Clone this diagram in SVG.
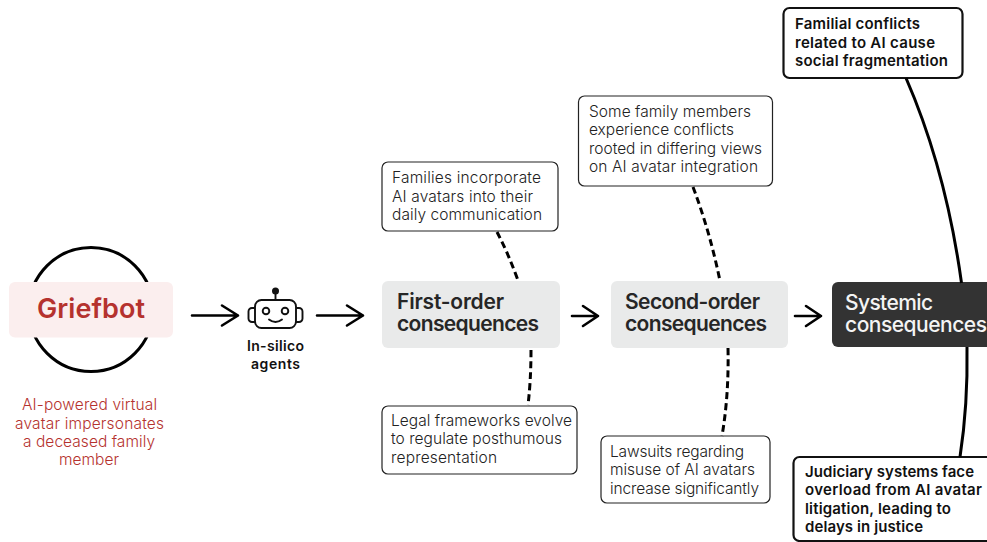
<svg xmlns="http://www.w3.org/2000/svg" width="987" height="542" viewBox="0 0 987 542">
<defs>
<style>
text{font-family:"Inter","Liberation Sans",sans-serif;fill:#222;}
.note{font-size:15.500px;font-weight:300;fill:#222;}
.strong{font-size:15px;font-weight:600;fill:#111;}
.head{font-size:21px;font-weight:600;fill:#262626;}
.box{fill:#fff;stroke:#222;stroke-width:1.2;}
.boxb{fill:#fff;stroke:#111;stroke-width:2.2;}
.arrow{fill:none;stroke:#000;stroke-width:2.6;stroke-linecap:round;stroke-linejoin:round;}
.dash{fill:none;stroke:#000;stroke-width:3;stroke-dasharray:7 4;}
.solid{fill:none;stroke:#000;stroke-width:3;}
.cap{font-size:15.500px;font-weight:300;fill:#b5322e;}
</style>
</defs>
<rect width="987" height="542" fill="#fff"/>
<g id="griefbot">
<circle cx="91" cy="309.500" r="62" fill="none" stroke="#000" stroke-width="3"/>
<rect x="9" y="282" width="164" height="55.500" rx="6" fill="#fbeeee"/>
<text x="37" y="318" font-size="27" font-weight="600" style="fill:#b5322e" textLength="108">Griefbot</text>
<text class="cap" x="22" y="410" textLength="135">AI-powered virtual</text>
<text class="cap" x="15" y="428.500" textLength="149">avatar impersonates</text>
<text class="cap" x="23" y="447" textLength="132">a deceased family</text>
<text class="cap" x="59" y="465" textLength="60">member</text>
</g>
<g id="agents">
<g fill="none" stroke="#111" stroke-width="1.900">
<rect x="255" y="300" width="41" height="28" rx="6.500" fill="#fff"/>
<path d="M255 308h-3a3.500 3.500 0 0 0-3.500 3.500v7a3.500 3.500 0 0 0 3.500 3.500h3"/>
<path d="M296 308h3a3.500 3.500 0 0 1 3.500 3.500v7a3.500 3.500 0 0 1-3.500 3.500h-3"/>
<path d="M275.500 293v7"/>
<circle cx="266" cy="311" r="3.300"/>
<circle cx="285" cy="311" r="3.300"/>
<path d="M269 319.500q6.500 5 13 0" stroke-linecap="round"/>
</g>
<circle cx="275.500" cy="291" r="3.500" fill="#111"/>
<text x="247" y="351" font-size="14" font-weight="600" style="fill:#111" textLength="57">In-silico</text>
<text x="251" y="369" font-size="14" font-weight="600" style="fill:#111" textLength="49">agents</text>
</g>
<g id="first-order">
<rect x="382" y="281" width="178" height="67" rx="6" fill="#e9eaea"/>
<text class="head" x="397" y="309" textLength="107">First-order</text>
<text class="head" x="397" y="331" textLength="142">consequences</text>
</g>
<g id="second-order">
<rect x="611" y="281" width="177" height="67" rx="6" fill="#e9eaea"/>
<text class="head" x="625" y="309" textLength="135">Second-order</text>
<text class="head" x="625" y="331" textLength="142">consequences</text>
</g>
<g id="systemic">
<rect x="832" y="282" width="170" height="65" rx="6" fill="#333"/>
<text x="845" y="310" font-size="21" font-weight="500" style="fill:#f4f4f4" textLength="88">Systemic</text>
<text x="845" y="332" font-size="21" font-weight="500" style="fill:#f4f4f4" textLength="142">consequences</text>
</g>
<g id="families">
<rect class="box" x="382" y="162" width="176" height="69" rx="6"/>
<text class="note" x="392" y="183" textLength="149">Families incorporate</text>
<text class="note" x="392" y="201.500" textLength="141">AI avatars into their</text>
<text class="note" x="392" y="220" textLength="150">daily communication</text>
</g>
<g id="legal">
<rect class="box" x="382" y="406" width="195" height="68" rx="6"/>
<text class="note" x="391" y="426" textLength="181">Legal frameworks evolve</text>
<text class="note" x="391" y="444" textLength="171">to regulate posthumous</text>
<text class="note" x="391" y="462.500" textLength="106">representation</text>
</g>
<g id="some-family">
<rect class="box" x="578.500" y="96" width="194" height="90" rx="6"/>
<text class="note" x="589" y="117" textLength="162">Some family members</text>
<text class="note" x="589" y="135" textLength="145">experience conflicts</text>
<text class="note" x="589" y="153.500" textLength="173">rooted in differing views</text>
<text class="note" x="589" y="172" textLength="169">on AI avatar integration</text>
</g>
<g id="lawsuits">
<rect class="box" x="601" y="436" width="169" height="67" rx="6"/>
<text class="note" x="610" y="457" textLength="134">Lawsuits regarding</text>
<text class="note" x="610" y="475" textLength="145">misuse of AI avatars</text>
<text class="note" x="610" y="493.500" textLength="149">increase significantly</text>
</g>
<g id="familial">
<rect class="boxb" x="783.500" y="8" width="179" height="70" rx="6"/>
<text class="strong" x="795" y="29" textLength="125">Familial conflicts</text>
<text class="strong" x="795" y="47.500" textLength="140">related to AI cause</text>
<text class="strong" x="795" y="66" textLength="153">social fragmentation</text>
</g>
<g id="judiciary">
<rect class="boxb" x="793.500" y="457" width="210" height="84" rx="6"/>
<text class="strong" x="805" y="477" textLength="169">Judiciary systems face</text>
<text class="strong" x="805" y="495" textLength="177">overload from AI avatar</text>
<text class="strong" x="805" y="514" textLength="146">litigation, leading to</text>
<text class="strong" x="805" y="532" textLength="118">delays in justice</text>
</g>
<g id="connectors">
<path class="arrow" d="M192 315.500H238M222 305.500L238 315.500L222 325.500"/>
<path class="arrow" d="M317 315.500H363M347 305.500L363 315.500L347 325.500"/>
<path class="arrow" d="M572 316H598M583 306L598 316L583 326"/>
<path class="arrow" d="M795 316H821M806 306L821 316L806 326"/>
<path class="dash" d="M497 232Q508 253 517.500 279"/>
<path class="dash" d="M531 350Q531 380 528 405"/>
<path class="dash" d="M693 187Q710 232 720 281"/>
<path class="dash" d="M728 348Q729 395 722 436"/>
<path class="solid" d="M906 78Q946 170 961.500 283"/>
<path class="solid" d="M967 347Q968 405 960 457"/>
</g>
</svg>
